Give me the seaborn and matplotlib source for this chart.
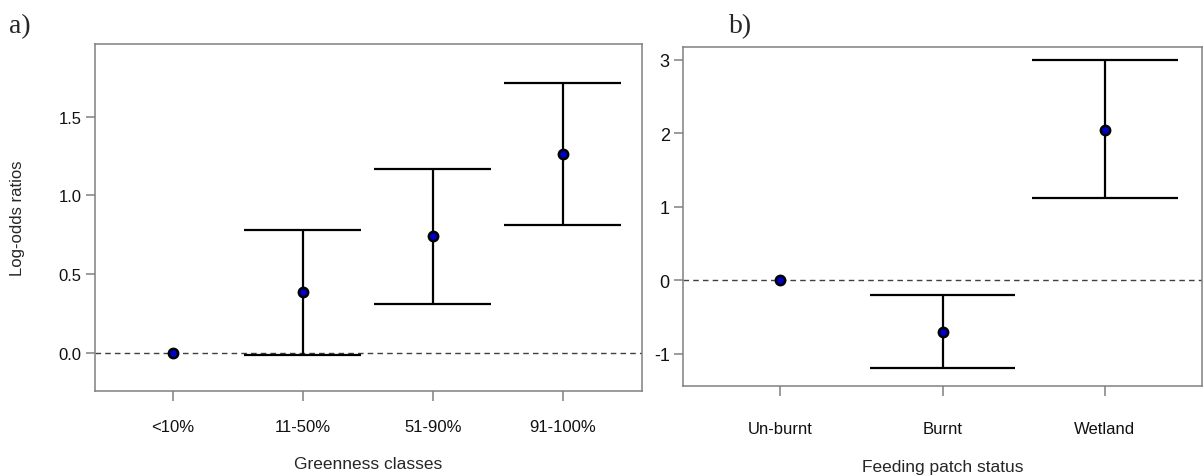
import numpy as np
import pandas as pd
import matplotlib
matplotlib.use("Agg")
import matplotlib.pyplot as plt
import seaborn as sns

# ---- data ----
green_classes = ["<10%", "11-50%", "51-90%", "91-100%"]
green_est = [0.0, 0.385, 0.74, 1.26]
green_lo = [np.nan, -0.01, 0.31, 0.815]
green_hi = [np.nan, 0.78, 1.17, 1.715]

patch_status = ["Un-burnt", "Burnt", "Wetland"]
patch_est = [0.0, -0.70, 2.04]
patch_lo = [np.nan, -1.20, 1.11]
patch_hi = [np.nan, -0.20, 3.00]

left_yticks = [0.0, 0.5, 1.0, 1.5]
right_yticks = [-1, 0, 1, 2, 3]

sns.set_style("ticks")
plt.rcParams["font.family"] = ["Liberation Sans", "DejaVu Sans"]

fig = plt.figure(figsize=(12.04, 4.77), dpi=100)
axL = fig.add_axes([95 / 1204, 85 / 477, 547 / 1204, 347 / 477])
axR = fig.add_axes([683 / 1204, 90 / 477, 519 / 1204, 339 / 477])

SPINE = "#808080"
CAPW = 0.45


def draw(ax, cats, est, lo, hi, xlabel, yticks, yfmt, ylim, xlim, xpad, ysize, lpad):
    x = np.arange(len(cats))
    df = pd.DataFrame({"x": x, "est": est, "lo": lo, "hi": hi})
    ax.axhline(0, color="#404040", lw=1.0, ls=(0, (4, 3)), zorder=1)
    ax.vlines(df["x"], df["lo"], df["hi"], color="black", lw=1.6, zorder=2)
    ax.hlines(df["lo"], df["x"] - CAPW, df["x"] + CAPW, color="black", lw=1.6, zorder=2)
    ax.hlines(df["hi"], df["x"] - CAPW, df["x"] + CAPW, color="black", lw=1.6, zorder=2)
    sns.scatterplot(data=df, x="x", y="est", ax=ax, color="#0000c8",
                    edgecolor="black", linewidth=1.8, s=45, zorder=3, legend=False)
    ax.set_xlim(*xlim)
    ax.set_ylim(*ylim)
    ax.set_xticks(x)
    ax.set_xticklabels(cats)
    ax.set_yticks(yticks)
    ax.set_yticklabels([yfmt.format(v) for v in yticks])
    ax.tick_params(axis="x", length=7, width=1.1, color=SPINE, pad=xpad,
                   labelsize=12, labelcolor="#111111")
    ax.tick_params(axis="y", length=6.5, width=1.1, color=SPINE, pad=3,
                   labelsize=ysize, labelcolor="#111111")
    for sp in ax.spines.values():
        sp.set_visible(True)
        sp.set_color(SPINE)
        sp.set_linewidth(1.1)
    ax.set_xlabel(xlabel, fontsize=12.5, labelpad=lpad)
    ax.set_ylabel("")


draw(axL, green_classes, green_est, green_lo, green_hi, "Greenness classes",
     left_yticks, "{:.1f}", (-0.24, 1.96), (-0.6, 3.61), 13, 12, 16)
draw(axR, patch_status, patch_est, patch_lo, patch_hi, "Feeding patch status",
     right_yticks, "{:d}", (-1.44, 3.17), (-0.6, 2.6), 18, 13, 17)

fig.text(18 / 1204, 1 - 218 / 477, "Log-odds ratios", rotation=90,
         ha="center", va="center", fontsize=12)
fig.text(20 / 1204, 1 - 27 / 477, "a)", ha="center", va="center",
         fontsize=20, family="Liberation Serif")
fig.text(741 / 1204, 1 - 27 / 477, "b)", ha="center", va="center",
         fontsize=20, family="Liberation Serif")

fig.savefig("out.png", dpi=100)
